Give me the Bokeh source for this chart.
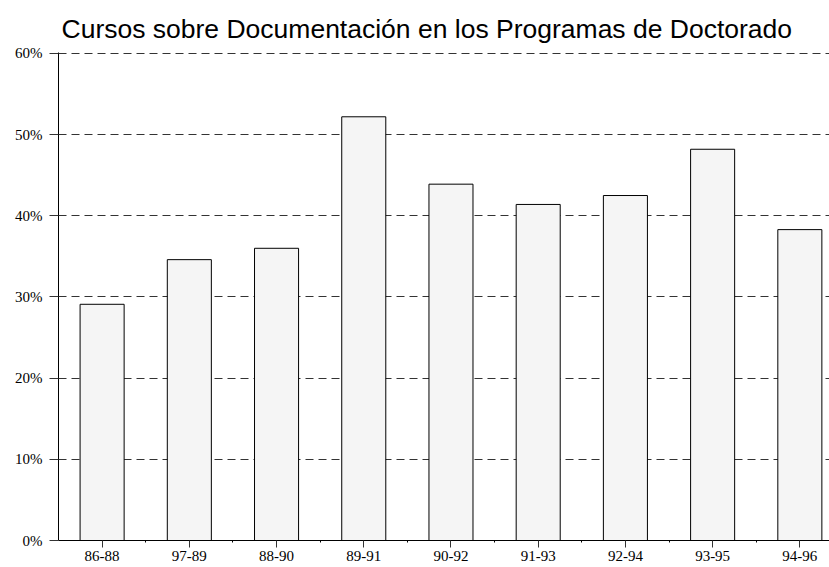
from bokeh.plotting import figure
from bokeh.models import Range1d, FixedTicker, Title, ColumnDataSource
from bokeh.embed import file_html
from bokeh.resources import INLINE

categories = ["86-88", "97-89", "88-90", "89-91", "90-92", "91-93", "92-94", "93-95", "94-96"]
values = [29.1, 34.6, 36.0, 52.2, 43.9, 41.4, 42.5, 48.2, 38.3]
y_ticks = [0, 10, 20, 30, 40, 50, 60]

xpos = [i + 0.5 for i in range(len(categories))]
src = ColumnDataSource(dict(x=xpos, top=values, cat=categories))

p = figure(width=829, height=567, output_backend="svg", toolbar_location=None,
           x_range=Range1d(0.0, 8.84), y_range=Range1d(0, 60.12),
           min_border_left=58, min_border_right=0, min_border_bottom=27, min_border_top=52)
p.outline_line_color = None
p.background_fill_color = "white"
p.border_fill_color = "white"

t = Title(text="Cursos sobre Documentación en los Programas de Doctorado",
          text_font="Liberation Sans", text_font_size="26.5px", text_font_style="normal",
          align="left", offset=3, text_color="black", standoff=17)
p.add_layout(t, "above")

p.vbar(x="x", top="top", bottom=0, width=0.505, source=src,
       fill_color="#f5f5f5", line_color="black", line_width=1)

# y axis
p.yaxis.ticker = FixedTicker(ticks=y_ticks)
p.yaxis.major_label_overrides = {v: f"{v}%" for v in y_ticks}
p.yaxis.major_label_text_font = "Liberation Serif"
p.yaxis.major_label_text_font_size = "15px"
p.yaxis.major_label_text_color = "black"
p.yaxis.major_tick_in = 0
p.yaxis.major_tick_out = 9
p.yaxis.minor_tick_line_color = None
p.yaxis.axis_line_color = "black"
p.yaxis.major_tick_line_color = "#333333"
p.yaxis.major_label_standoff = 7

# x axis
p.xaxis.ticker = FixedTicker(ticks=xpos, minor_ticks=[float(i) for i in range(1, len(categories))])
p.xaxis.major_label_overrides = {x: c for x, c in zip(xpos, categories)}
p.xaxis.major_label_text_font = "Liberation Serif"
p.xaxis.major_label_text_font_size = "15px"
p.xaxis.major_label_text_color = "black"
p.xaxis.major_tick_in = 0
p.xaxis.major_tick_out = 7
p.xaxis.minor_tick_in = 0
p.xaxis.minor_tick_out = 2
p.xaxis.axis_line_color = "black"
p.xaxis.major_tick_line_color = "#333333"
p.xaxis.major_label_standoff = 3

p.xgrid.grid_line_color = None
p.ygrid.ticker = FixedTicker(ticks=y_ticks[1:])
p.ygrid.grid_line_color = "#333333"
p.ygrid.grid_line_dash = "8 5"
p.ygrid.grid_line_width = 1

open("out.html", "w").write(file_html(p, INLINE))
